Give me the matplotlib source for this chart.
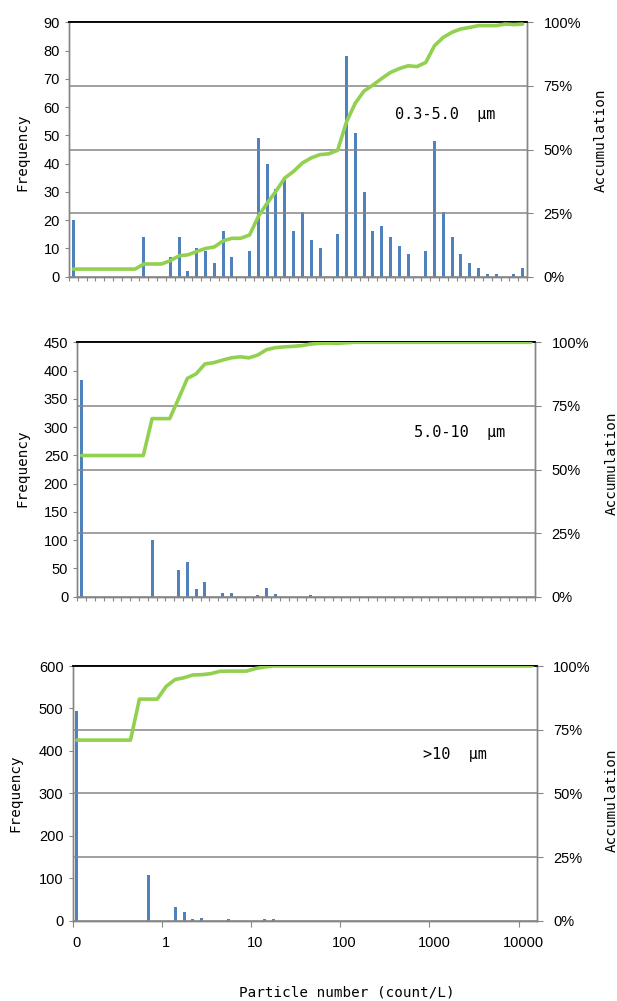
import matplotlib
matplotlib.use('Agg')
import matplotlib.pyplot as plt
import numpy as np

plt.rcParams['font.family'] = ['Liberation Sans', 'DejaVu Sans']

# 52 log-spaced size bins (10 per decade), labelled every 10 bins
x_labels = ['0', '1', '10', '100', '1000', '10000']

# 0.3-5.0 um frequency per bin
freq_small = [20, 0, 0, 0, 0, 0, 0, 0, 14, 0, 0, 7, 14, 2, 10, 9, 5, 16, 7, 0,
              9, 49, 40, 31, 35, 16, 23, 13, 10, 0, 15, 78, 51, 30, 16, 18, 14, 11, 8, 0,
              9, 48, 23, 14, 8, 5, 3, 1, 1, 0, 1, 3]
cum_small = [3.0, 3.0, 3.0, 3.0, 3.0, 3.0, 3.0, 3.0, 5.0, 5.0, 5.0, 6.3, 8.2, 8.6, 9.9, 11.1,
             11.7, 14.1, 15.1, 15.1, 16.4, 23.7, 28.9, 33.6, 38.8, 41.4, 44.7, 46.7, 48.0, 48.3,
             49.7, 60.8, 68.2, 73.0, 75.3, 77.9, 80.3, 81.8, 82.9, 82.6, 84.2, 90.8, 94.1, 96.1,
             97.4, 98.0, 98.7, 98.7, 98.7, 99.3, 99.1, 99.3]

# 5.0-10 um
freq_mid = [383, 0, 0, 0, 0, 0, 0, 0, 100, 0, 0, 47, 61, 13, 26, 0, 7, 7, 0, 0,
            3, 16, 5, 0, 0, 0, 3, 0, 0, 0, 0, 0, 0, 0, 0, 0, 0, 0, 0, 0,
            0, 0, 0, 0, 0, 0, 0, 0, 0, 0, 0, 0]
cum_mid = [55.5, 55.5, 55.5, 55.5, 55.5, 55.5, 55.5, 55.5, 70.0, 70.0, 70.0, 77.8, 85.8, 87.6,
           91.5, 92.0, 93.0, 93.9, 94.3, 93.9, 95.0, 97.1, 97.9, 98.2, 98.4, 98.7, 99.3, 99.6,
           99.7, 99.6, 99.8, 100, 100, 100, 100, 100, 100, 100, 100, 100, 100, 100, 100, 100,
           100, 100, 100, 100, 100, 100, 100, 100]

# >10 um
freq_big = [493, 0, 0, 0, 0, 0, 0, 0, 108, 0, 0, 33, 20, 4, 6, 0, 0, 3, 0, 0,
            0, 3, 3, 0, 0, 0, 0, 0, 0, 0, 0, 0, 0, 0, 0, 0, 0, 0, 0, 0,
            0, 0, 0, 0, 0, 0, 0, 0, 0, 0, 0, 0]
cum_big = [70.9, 70.9, 70.9, 70.9, 70.9, 70.9, 70.9, 87.0, 87.0, 87.0, 92.0, 94.7, 95.4, 96.5,
           96.6, 97.0, 97.9, 98.0, 98.0, 98.0, 99.0, 99.6, 100, 100, 100, 100, 100, 100, 100,
           100, 100, 100, 100, 100, 100, 100, 100, 100, 100, 100, 100, 100, 100, 100, 100, 100,
           100, 100, 100, 100, 100, 100]

names = ['0.3-5.0  μm', '5.0-10  μm', '>10  μm']

W, H = 617, 1001
fig = plt.figure(figsize=(W / 100, H / 100), dpi=100)

bar_col = '#4F81BD'
line_col = '#92D050'
gray = '#868686'
mono = ['DejaVu Sans Mono', 'Noto Sans CJK JP']

# pixel boxes: left, top, right, bottom
boxes = [(69, 22.3, 527, 276.7), (77.3, 342.3, 535, 596.7), (72.5, 666, 536.5, 920.7)]
ymaxes = [90, 450, 600]
ysteps = [10, 50, 100]
freqs = [freq_small, freq_mid, freq_big]
cums = [cum_small, cum_mid, cum_big]
name_pos = [(445, 115), (460, 432), (455, 755)]
freq_pos = [(22, 152), (22, 468), (15, 793)]
acc_pos = [(601, 140), (612, 463), (612, 800)]

for k in range(3):
    l, t, r, b = boxes[k]
    ax = fig.add_axes([l / W, 1 - b / H, (r - l) / W, (b - t) / H])
    n = len(freqs[k])
    x = np.arange(n)
    ax.bar(x, freqs[k], width=0.34, color=bar_col, zorder=2)
    ax.set_xlim(-0.5, n - 0.5)
    ax.set_ylim(0, ymaxes[k])
    ax.set_yticks(np.arange(0, ymaxes[k] + 1, ysteps[k]))
    ax.tick_params(axis='y', direction='out', length=3, width=0.8, color=gray,
                   labelsize=10.5, pad=3.5)
    if k < 2:
        ax.set_xticks(np.arange(n + 1) - 0.5)
        ax.set_xticklabels([])
        ax.tick_params(axis='x', direction='out', length=3, width=0.8, color=gray)
    else:
        ax.set_xticks(np.arange(0, n, 10) - 0.5)
        ax.set_xticklabels([])
        ax.set_xticks(np.arange(0, n, 10), minor=True)
        ax.set_xticklabels(x_labels, minor=True)
        ax.tick_params(axis='x', which='major', direction='out', length=4.5, width=0.8, color=gray)
        ax.tick_params(axis='x', which='minor', length=0, labelsize=10.5, pad=11)
    for s in ['left', 'right', 'bottom']:
        ax.spines[s].set_color(gray)
        ax.spines[s].set_linewidth(1.0)
    ax.spines['top'].set_color('black')
    ax.spines['top'].set_linewidth(1.2)

    ax2 = ax.twinx()
    ax2.set_ylim(0, 100)
    ax2.set_yticks([0, 25, 50, 75, 100])
    ax2.set_yticklabels(['0%', '25%', '50%', '75%', '100%'])
    ax2.yaxis.grid(True, color=gray, linewidth=1.1)
    ax2.set_axisbelow(True)
    ax2.plot(x, cums[k], color=line_col, linewidth=2.6, solid_capstyle='round', zorder=3)
    ax2.tick_params(axis='y', direction='out', length=4.5, width=0.8, color=gray,
                    labelsize=10.5, pad=7.5)
    for s in ['left', 'right', 'bottom']:
        ax2.spines[s].set_color(gray)
        ax2.spines[s].set_linewidth(1.0)
    ax2.spines['top'].set_color('black')
    ax2.spines['top'].set_linewidth(1.2)

    nx, ny = name_pos[k]
    fig.text(nx / W, 1 - ny / H, names[k], family=mono, fontsize=11,
             ha='center', va='center')
    fx, fy = freq_pos[k]
    fig.text(fx / W, 1 - fy / H, 'Frequency', family=mono, fontsize=10.3,
             rotation=90, ha='center', va='center')
    axx, axy = acc_pos[k]
    fig.text(axx / W, 1 - axy / H, 'Accumulation', family=mono, fontsize=10.3,
             rotation=90, ha='center', va='center')

fig.text(347 / W, 1 - 993 / H, 'Particle number (count/L)', family=mono, fontsize=10.3,
         ha='center', va='center')

fig.savefig('out.png', dpi=100)
